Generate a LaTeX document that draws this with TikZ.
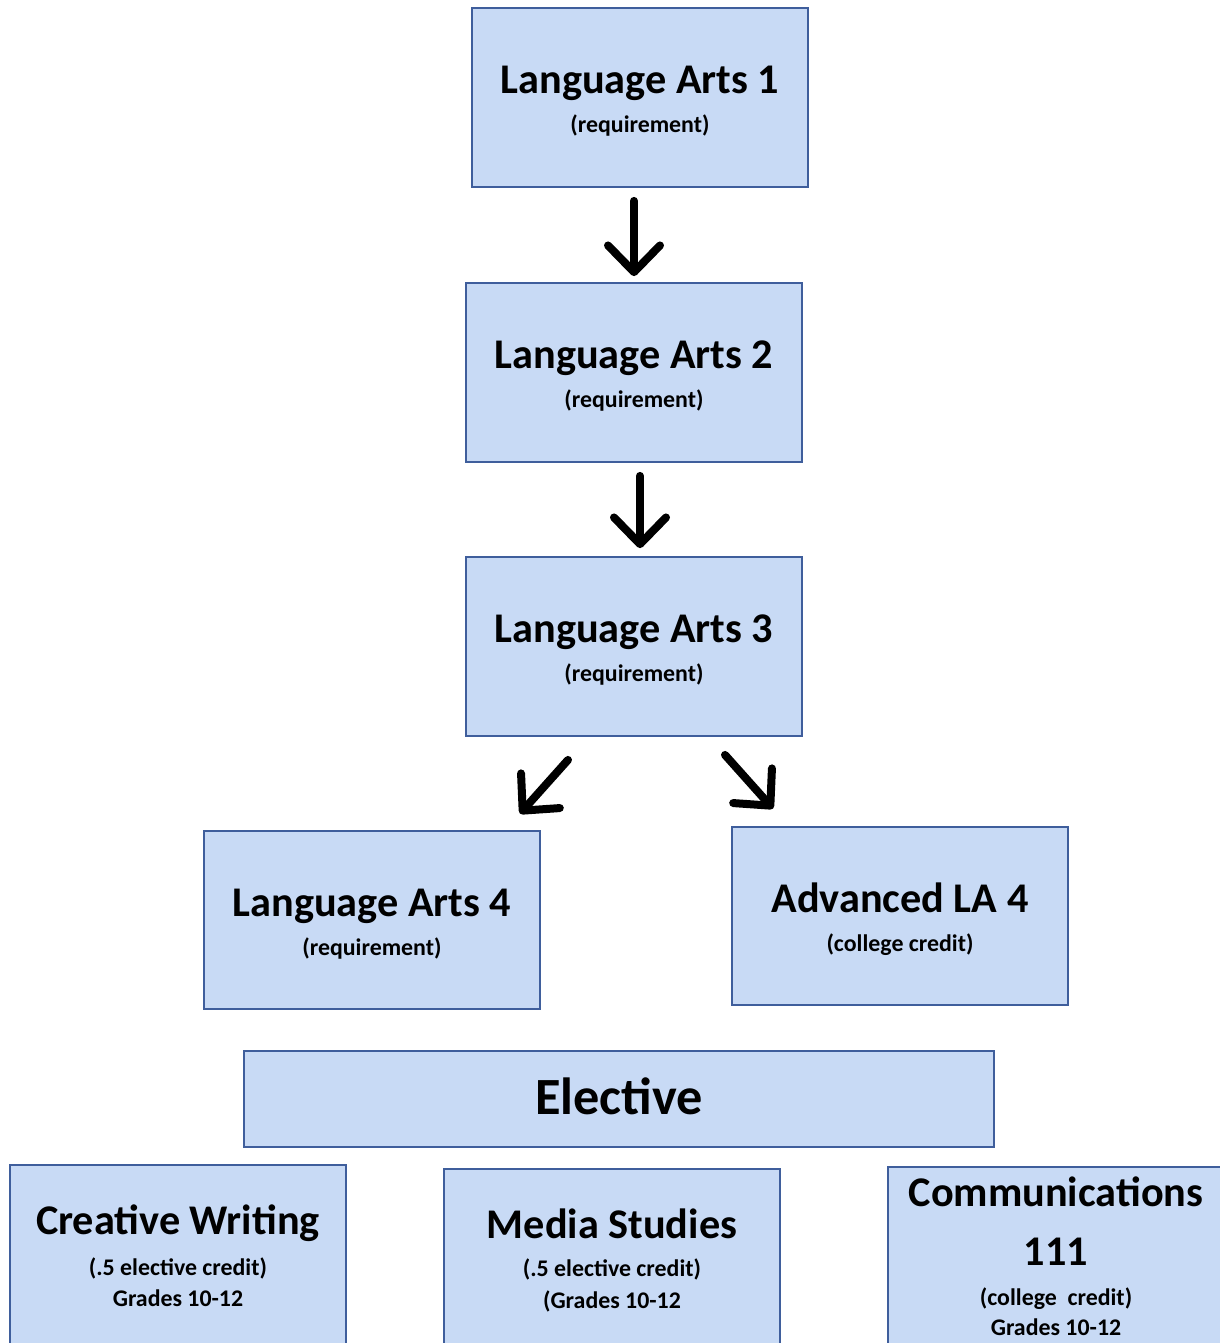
\documentclass[tikz,border=0pt]{standalone}
\usepackage{fontspec}
\setmainfont{Carlito}
\usetikzlibrary{arrows.meta,calc}
\definecolor{boxfill}{HTML}{C8DAF5}
\definecolor{boxline}{HTML}{3F5E9C}
\begin{document}
\begin{tikzpicture}[x=0.75pt,y=-0.75pt,
  box/.style={draw=boxline, fill=boxfill, line width=1.6pt, minimum width=252pt, minimum height=134pt, inner sep=0pt},
  ttl/.style={anchor=base, font=\bfseries\fontsize{31.7}{36}\selectfont, inner sep=0pt},
  sub/.style={anchor=base, font=\bfseries\fontsize{17.9}{21}\selectfont, inner sep=0pt},
  bttl/.style={anchor=base, font=\bfseries\fontsize{31.7}{36}\selectfont, inner sep=0pt},
  arr/.style={line width=6pt, line cap=round, -{Straight Barb[length=20pt,width=39pt,line cap=round,line join=round]}}]
\useasboundingbox (0,0) rectangle (1220,1343);
\clip (0,0) rectangle (1220,1343);
% boxes
\node[box] (la1) at (640,97.5) {};
\node[box] (la2) at (634,372.5) {};
\node[box] (la3) at (634,646.5) {};
\node[box] (la4) at (372,920) {};
\node[box] (adv) at (900,916) {};
\node[box, minimum width=562.5pt, minimum height=72pt] (elec) at (619,1099) {};
\node[box, minimum height=140pt] (cw) at (178,1258) {};
\node[box, minimum height=140pt] (ms) at (612,1262) {};
\node[box, minimum height=140pt] (com) at (1056,1260) {};
% texts
\node[ttl] (la1t) at (640,93) {Language Arts 1};
\node[sub] (la1s) at (640,132) {(requirement)};
\node[ttl] (la2t) at (634,368) {Language Arts 2};
\node[sub] (la2s) at (634,407) {(requirement)};
\node[ttl] (la3t) at (634,642) {Language Arts 3};
\node[sub] (la3s) at (634,681) {(requirement)};
\node[ttl] (la4t) at (372,916) {Language Arts 4};
\node[sub] (la4s) at (372,955) {(requirement)};
\node[ttl] (advt) at (900,912) {Advanced LA 4};
\node[sub] (advs) at (900,951) {(college credit)};
\node[anchor=base, font=\bfseries\fontsize{39.2}{44}\selectfont, inner sep=0pt] (elect) at (619,1114) {Elective};
\node[bttl] (cwt) at (178,1234) {Creative Writing};
\node[sub] (cws) at (178,1275) {(.5 elective credit)};
\node[sub] (cwg) at (178,1306) {Grades 10-12};
\node[bttl] (mst) at (612,1238) {Media Studies};
\node[sub] (mss) at (612,1276) {(.5 elective credit)};
\node[sub] (msg) at (612,1308) {(Grades 10-12};
\node[bttl] (comt) at (1056,1206) {Communications};
\node[bttl] (comn) at (1056,1265) {111};
\node[sub] (coms) at (1056,1305) {(college\ \ credit)};
\node[sub] (comg) at (1056,1335) {Grades 10-12};
% arrows
\draw[arr] ($(la1.south)+(-6,13)$) -- ($(la2.north)+(0,-6)$);
\draw[arr] ($(la2.south)+(6,13)$) -- ($(la3.north)+(6,-8)$);
\draw[arr] ($(la3.south)+(-66,23)$) -- ($(la4.north)+(148,-16)$);
\draw[arr] ($(la3.south)+(91,18)$) -- ($(adv.north)+(-127,-17)$);
\end{tikzpicture}
\end{document}
